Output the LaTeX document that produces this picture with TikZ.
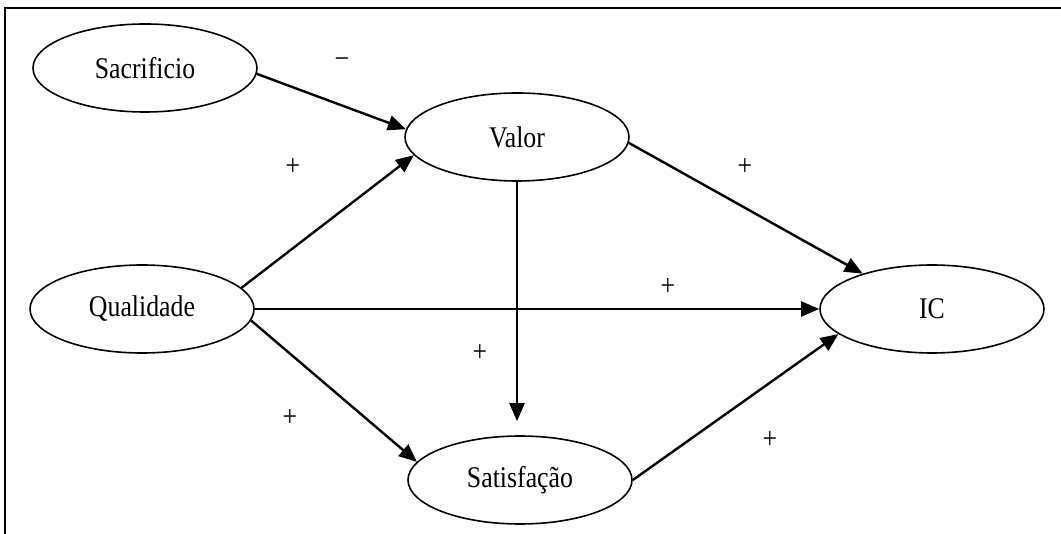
\documentclass[tikz,border=0pt]{standalone}
\usepackage{fontspec}
\setmainfont{Liberation Serif}[FakeStretch=0.86]
\usetikzlibrary{shapes.geometric,arrows.meta}
\begin{document}
\begin{tikzpicture}[x=1pt,y=-1pt,
  oval/.style={ellipse,draw,line width=1.6pt,minimum width=224pt,minimum height=88pt,inner sep=0pt,font=\fontsize{30}{34}\selectfont},
  conn/.style={line width=2.4pt,-{Triangle[length=18pt,width=15pt]}},
  sign/.style={font=\fontsize{30}{34}\selectfont,inner sep=0pt}]
\useasboundingbox (0,0) rectangle (1061,534);
\draw[line width=2.4pt] (5,534) -- (5,8) -- (1061,8);
\node[oval] (sac) at (145,68) {Sacrificio};
\node[oval] (val) at (517,137) {Valor};
\node[oval] (qual) at (142,309) {Qualidade};
\node[oval] (ic) at (932,309) {IC};
\node[oval] (sat) at (520,480) {Satisfação};
\draw[conn] (sac.357) -- (val.176);
\draw[conn] (qual.12) -- (val.190);
\draw[conn] (qual.east) -- (ic.west);
\draw[conn] (qual.354) -- (sat.170);
\draw[conn,shorten >=14pt] (val.south) -- (val.south |- sat.north);
\draw[conn] (val.357) -- (ic.153);
\draw[conn] (sat.east) -- (ic.195);
\node[sign] (m1) at (342,63) {−};
\node[sign] (p1) at (293,167) {+};
\node[sign] (p2) at (745,167) {+};
\node[sign] (p3) at (668,287) {+};
\node[sign] (p4) at (480,353) {+};
\node[sign] (p5) at (290,418) {+};
\node[sign] (p6) at (770,440) {+};
\end{tikzpicture}
\end{document}
